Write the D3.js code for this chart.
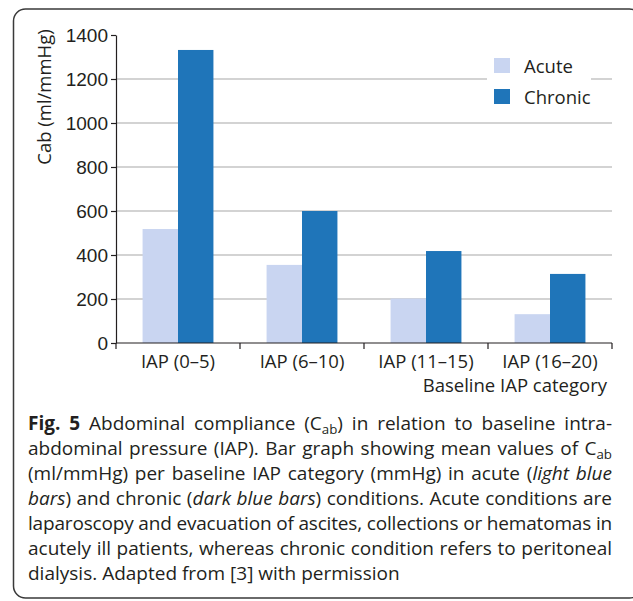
<!DOCTYPE html>
<html>
<head>
<meta charset="utf-8">
<script src="https://cdn.jsdelivr.net/npm/d3@7"></script>
<style>
  body { margin: 0; background: #fff; }
  svg { display: block; font-family: "Open Sans", sans-serif; }
  .axis text { font-size: 19px; fill: #231f20; }
  .axis path, .axis line { stroke: #231f20; stroke-width: 1.2; }
</style>
</head>
<body>
<script>
window.onload = function() {

    // Dimensions
    var w = 633, h = 601;

    // Data
    var categories = ["IAP (0\u20135)", "IAP (6\u201310)", "IAP (11\u201315)", "IAP (16\u201320)"];
    var seriesNames = ["Acute", "Chronic"];
    var acute = [518, 355, 202, 131];
    var chronic = [1332, 600, 418, 314];
    var yTicks = [0, 200, 400, 600, 800, 1000, 1200, 1400];
    var colors = ["#c9d5f1", "#1f75b9"];

    var rows = categories.map(function(c, i) {
        return { cat: c, values: [acute[i], chronic[i]] };
    });

    // SVG container
    var svg = d3.select("body")
        .append("svg")
        .attr("width", w)
        .attr("height", h);

    // Frame (right side runs off the page)
    svg.append("rect")
        .attr("x", 13.5)
        .attr("y", 9)
        .attr("width", 628)
        .attr("height", 589)
        .attr("rx", 12)
        .style("fill", "none")
        .style("stroke", "#3a3a3a")
        .style("stroke-width", 1.5);

    // Scales
    var x0 = d3.scaleBand()
        .domain(categories)
        .range([116, 612]);

    var x1 = d3.scaleBand()
        .domain(seriesNames)
        .range([0, x0.bandwidth()])
        .paddingOuter(0.75);

    var y = d3.scaleLinear()
        .domain([0, 1400])
        .range([343, 35]);

    // Gridlines
    svg.append("g")
        .selectAll("line")
        .data(yTicks.filter(function(d) { return d > 0 && d < 1400; }))
        .enter()
        .append("line")
        .attr("x1", 116)
        .attr("x2", 612)
        .attr("y1", function(d) { return y(d); })
        .attr("y2", function(d) { return y(d); })
        .style("stroke", "#c4c4c4")
        .style("stroke-width", 1.3);

    // Bars
    var groups = svg.selectAll(".grp")
        .data(rows)
        .enter()
        .append("g")
        .attr("class", "grp")
        .attr("transform", function(d) { return "translate(" + x0(d.cat) + ",0)"; });

    groups.selectAll("rect")
        .data(function(d) { return d.values.map(function(v, i) { return { s: seriesNames[i], v: v, i: i }; }); })
        .enter()
        .append("rect")
        .attr("x", function(d) { return x1(d.s); })
        .attr("width", x1.bandwidth())
        .attr("y", function(d) { return y(d.v); })
        .attr("height", function(d) { return y(0) - y(d.v); })
        .style("fill", function(d) { return colors[d.i]; });

    // Y axis
    svg.append("g")
        .attr("class", "axis")
        .attr("transform", "translate(116,0)")
        .call(d3.axisLeft(y).tickValues(yTicks).tickFormat(d3.format("d"))
            .tickSize(5).tickSizeOuter(0).tickPadding(3));

    // X axis: ticks at band boundaries, labels at centres
    var xa = svg.append("g")
        .attr("class", "axis")
        .attr("transform", "translate(0,343)");

    xa.append("line")
        .attr("x1", 116).attr("x2", 612);

    var bounds = categories.map(function(c) { return x0(c); }).concat([x0.range()[1]]);
    xa.selectAll(".tk")
        .data(bounds)
        .enter()
        .append("line")
        .attr("class", "tk")
        .attr("x1", function(d) { return d; })
        .attr("x2", function(d) { return d; })
        .attr("y1", 0)
        .attr("y2", 6);

    xa.selectAll(".lbl")
        .data(categories)
        .enter()
        .append("text")
        .attr("class", "lbl")
        .attr("x", function(d) { return x0(d) + x0.bandwidth() / 2; })
        .attr("y", 25)
        .attr("text-anchor", "middle")
        .style("font-size", "18.5px")
        .text(function(d) { return d; });

    // Axis titles
    svg.append("text")
        .attr("x", 607)
        .attr("y", 392)
        .attr("text-anchor", "end")
        .style("font-size", "18.5px")
        .style("fill", "#231f20")
        .text("Baseline IAP category");

    svg.append("text")
        .attr("transform", "translate(51,97) rotate(-90)")
        .attr("text-anchor", "middle")
        .style("font-size", "18.5px")
        .style("fill", "#231f20")
        .text("Cab (ml/mmHg)");

    // Legend
    var legend = svg.append("g");
    legend.append("rect")
        .attr("x", 487).attr("y", 50)
        .attr("width", 104).attr("height", 62)
        .style("fill", "#fff");

    var li = legend.selectAll(".li")
        .data(seriesNames)
        .enter()
        .append("g")
        .attr("class", "li")
        .attr("transform", function(d, i) { return "translate(494," + (58 + i * 31) + ")"; });

    li.append("rect")
        .attr("width", 16).attr("height", 15)
        .style("fill", function(d, i) { return colors[i]; });

    li.append("text")
        .attr("x", 30).attr("y", 15)
        .style("font-size", "18.5px")
        .style("fill", "#231f20")
        .text(function(d) { return d; });

    // Caption
    var captionLines = [
        [["b", "Fig. 5"], ["", " Abdominal compliance (C"], ["sub", "ab"], ["", ") in relation to baseline intra-"]],
        [["", "abdominal pressure (IAP). Bar graph showing mean values of C"], ["sub", "ab"]],
        [["", "(ml/mmHg) per baseline IAP category (mmHg) in acute ("], ["i", "light blue"]],
        [["i", "bars"], ["", ") and chronic ("], ["i", "dark blue bars"], ["", ") conditions. Acute conditions are"]],
        [["", "laparoscopy and evacuation of ascites, collections or hematomas in"]],
        [["", "acutely ill patients, whereas chronic condition refers to peritoneal"]],
        [["", "dialysis. Adapted from [3] with permission"]]
    ];

    var capLeft = 28, capWidth = 584;
    var cap = svg.append("g")
        .style("font-size", "19px")
        .style("fill", "#231f20");

    captionLines.forEach(function(line, li) {
        var t = cap.append("text")
            .attr("x", capLeft)
            .attr("y", 430 + li * 25);
        line.forEach(function(part, k) {
            var s = t.append("tspan").text(part[1]);
            if (part[0] === "b") s.style("font-weight", "bold");
            if (part[0] === "i") s.style("font-style", "italic");
            if (part[0] === "sub") s.attr("dy", 4).style("font-size", "0.7em");
            if (k > 0 && line[k - 1][0] === "sub") s.attr("dy", -4);
        });
        // justify every line but the last
        if (li < captionLines.length - 1) {
            var str = line.map(function(p) { return p[1]; }).join("");
            var extra = capWidth - t.node().getComputedTextLength();
            if (extra >= 0) {
                t.style("word-spacing", (extra / (str.split(" ").length - 1)) + "px");
            } else {
                t.style("letter-spacing", (extra / str.length) + "px");
            }
        }
    });
};
</script>
</body>
</html>
